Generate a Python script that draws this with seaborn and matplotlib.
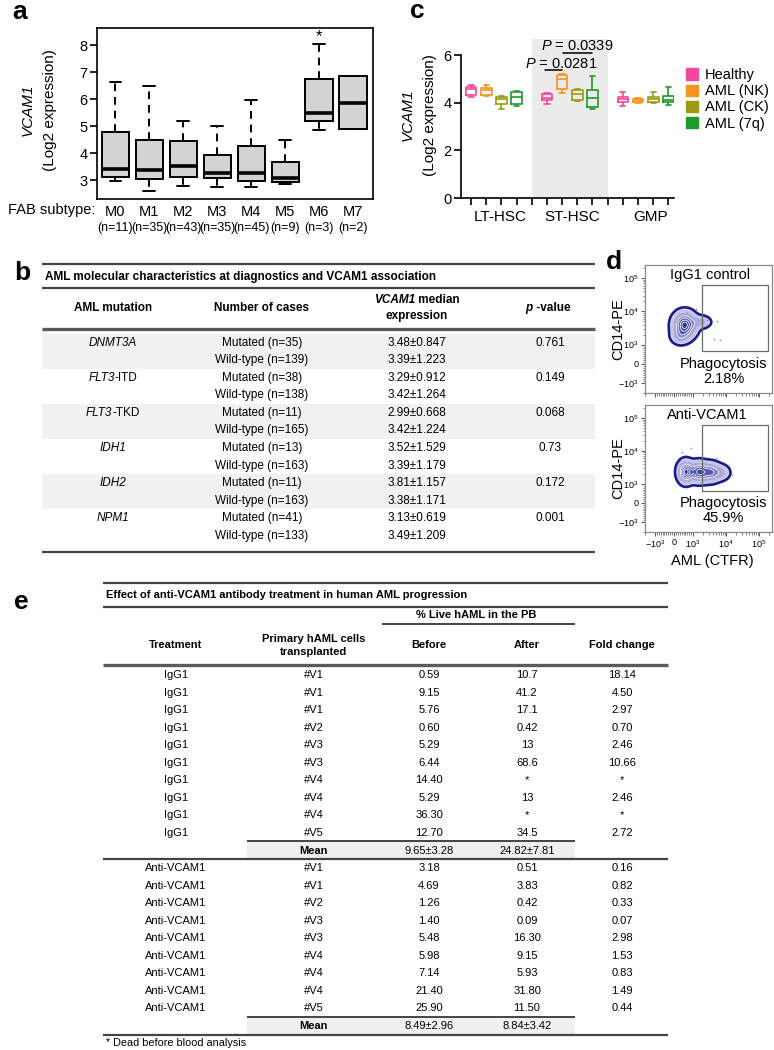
import numpy as np
import pandas as pd
import matplotlib
matplotlib.use("Agg")
import matplotlib.pyplot as plt
import seaborn as sns
from matplotlib import font_manager
from matplotlib.patches import Rectangle, Patch
from matplotlib.colors import LinearSegmentedColormap
from matplotlib.transforms import blended_transform_factory

# ======================= DATA =======================
# panel a : VCAM1 by FAB subtype (five-number summaries read from the boxes)
fab_subtypes = ["M0", "M1", "M2", "M3", "M4", "M5", "M6", "M7"]
fab_n = [11, 35, 43, 35, 45, 9, 3, 2]
fab_min = [2.98, 2.62, 2.79, 2.74, 2.75, 2.85, 4.87, 4.88]
fab_q1 = [3.14, 3.06, 3.14, 3.07, 2.99, 2.93, 5.18, 4.88]
fab_median = [3.41, 3.39, 3.54, 3.28, 3.26, 3.07, 5.50, 5.87]
fab_q3 = [4.80, 4.48, 4.44, 3.92, 4.26, 3.67, 6.76, 6.85]
fab_max = [6.65, 6.49, 5.20, 5.01, 5.97, 4.48, 8.04, 6.85]
fab_star_value = 8.30

# panel c : VCAM1 in sorted populations
cell_types = ["LT-HSC", "ST-HSC", "GMP"]
groups = ["Healthy", "AML (NK)", "AML (CK)", "AML (7q)"]
group_colors = ["#f2479b", "#f7941d", "#9c9a12", "#1f9a2a"]
# order: LT (H, NK, CK, 7q), ST (...), GMP (...)
c_min = [4.22, 4.30, 3.72, 3.86, 3.93, 4.42, 4.06, 3.73, 3.86, 3.97, 4.00, 3.90]
c_q1 = [4.32, 4.32, 3.94, 3.93, 4.11, 4.56, 4.10, 3.80, 4.04, 4.03, 4.04, 4.04]
c_median = [4.56, 4.53, 4.14, 4.25, 4.21, 5.01, 4.35, 4.21, 4.15, 4.10, 4.15, 4.13]
c_q3 = [4.67, 4.60, 4.25, 4.46, 4.35, 5.15, 4.53, 4.52, 4.25, 4.15, 4.25, 4.29]
c_max = [4.74, 4.73, 4.29, 4.49, 4.42, 5.22, 4.59, 5.12, 4.46, 4.20, 4.43, 4.64]
c_pvals = ["0.0281", "0.0339"]

# panel b : molecular characteristics table
b_mutations = ["DNMT3A", "FLT3-ITD", "FLT3-TKD", "IDH1", "IDH2", "NPM1"]
b_mut_n = [35, 38, 11, 13, 11, 41]
b_wt_n = [139, 138, 165, 163, 163, 133]
b_mut_med = [3.48, 3.29, 2.99, 3.52, 3.81, 3.13]
b_mut_sd = [0.847, 0.912, 0.668, 1.529, 1.157, 0.619]
b_wt_med = [3.39, 3.42, 3.42, 3.39, 3.38, 3.49]
b_wt_sd = [1.223, 1.264, 1.224, 1.179, 1.171, 1.209]
b_pvalues = ["0.761", "0.149", "0.068", "0.73", "0.172", "0.001"]

# panel d : flow cytometry density components (centre x, centre y, spread in decades, weight)
igg_cx = [560, 1700, 330]
igg_cy = [3900, 4800, 1800]
igg_sx = [0.19, 0.16, 0.15]
igg_sy = [0.21, 0.10, 0.13]
igg_w = [1.0, 0.30, 0.30]
igg_dots_x = [4200, 6500, 5200, 300, -250, 900, 1200, 2600, 700]
igg_dots_y = [1500, 1400, 5000, 13000, 2600, 1250, 12000, 5600, 9000]
igg_gate_pct = "2.18%"
anti_cx = [620, 1500, 3300, 7000]
anti_cy = [2300, 2300, 2250, 2200]
anti_sx = [0.13, 0.15, 0.17, 0.15]
anti_sy = [0.18, 0.17, 0.16, 0.13]
anti_w = [1.0, 0.80, 0.65, 0.25]
anti_dots_x = [400, 900, 12000, 15000, 200, 5000, 1800]
anti_dots_y = [9000, 12000, 2500, 1800, 1200, 6000, 8000]
anti_gate_pct = "45.9%"
gate_x = [1800, 187000]
gate_y_igg = [680, 61000]
gate_y_anti = [630, 61000]

# panel e : anti-VCAM1 treatment table
igg_cells = ["#V1", "#V1", "#V1", "#V2", "#V3", "#V3", "#V4", "#V4", "#V4", "#V5"]
igg_before = ["0.59", "9.15", "5.76", "0.60", "5.29", "6.44", "14.40", "5.29", "36.30", "12.70"]
igg_after = ["10.7", "41.2", "17.1", "0.42", "13", "68.6", "*", "13", "*", "34.5"]
igg_fold = ["18.14", "4.50", "2.97", "0.70", "2.46", "10.66", "*", "2.46", "*", "2.72"]
igg_mean = ["9.65±3.28", "24.82±7.81"]
anti_cells = ["#V1", "#V1", "#V2", "#V3", "#V3", "#V4", "#V4", "#V4", "#V5"]
anti_before = ["3.18", "4.69", "1.26", "1.40", "5.48", "5.98", "7.14", "21.40", "25.90"]
anti_after = ["0.51", "3.83", "0.42", "0.09", "16.30", "9.15", "5.93", "31.80", "11.50"]
anti_fold = ["0.16", "0.82", "0.33", "0.07", "2.98", "1.53", "0.83", "1.49", "0.44"]
anti_mean = ["8.49±2.96", "8.84±3.42"]

# ======================= STYLE =======================
sns.set_theme(style="ticks")
avail = {f.name for f in font_manager.fontManager.ttflist}
BASE = "Liberation Sans" if "Liberation Sans" in avail else "DejaVu Sans"
NARROW = "Liberation Sans Narrow" if "Liberation Sans Narrow" in avail else BASE
plt.rcParams["font.family"] = [BASE, "DejaVu Sans"]
plt.rcParams["mathtext.fontset"] = "custom"
plt.rcParams["mathtext.rm"] = BASE
plt.rcParams["mathtext.it"] = BASE + ":italic"
plt.rcParams["mathtext.bf"] = BASE + ":bold"
for k in ["text.color", "axes.labelcolor", "xtick.color", "ytick.color", "axes.edgecolor"]:
    plt.rcParams[k] = "black"

W, H = 774, 1050
fig = plt.figure(figsize=(W / 100, H / 100), dpi=100)
fig.patch.set_facecolor("white")


def rect(l, t, r, b):
    return [l / W, 1 - b / H, (r - l) / W, (b - t) / H]


ov = fig.add_axes([0, 0, 1, 1])
ov.set_xlim(0, W)
ov.set_ylim(H, 0)
ov.axis("off")
renderer = fig.canvas.get_renderer()


def rich(x, y, segs, fs, family, ha="center"):
    texts, widths = [], []
    for s, kw in segs:
        t = ov.text(0, y, s, fontsize=fs, family=family, va="center", ha="left", **kw)
        widths.append(t.get_window_extent(renderer).width)
        texts.append(t)
    total = sum(widths)
    x0 = x - total / 2 if ha == "center" else x
    for t, w in zip(texts, widths):
        t.set_x(x0)
        x0 += w


def hline(y, x0, x1, lw=1.5, color="#444444"):
    ov.plot([x0, x1], [y, y], color=color, lw=lw, solid_capstyle="butt")


# panel letters
for letter, (lx, ly) in zip("abcde", [(20, 12), (22, 273), (417, 11), (614, 262), (21, 602)]):
    ov.text(lx, ly, letter, fontsize=19, fontweight="bold", ha="center", va="center")

# ======================= PANEL A =======================
axa = fig.add_axes(rect(97, 28, 373, 199))
rows = []
for i, m in enumerate(fab_subtypes):
    for v in (fab_min[i], fab_q1[i], fab_median[i], fab_q3[i], fab_max[i]):
        rows.append({"subtype": m, "value": v})
dfa = pd.DataFrame(rows)
sns.boxplot(data=dfa, x="subtype", y="value", order=fab_subtypes, color="#d3d3d3",
            saturation=1, width=0.8, whis=(0, 100), showfliers=False, linecolor="black",
            linewidth=1.4, ax=axa, capwidths=0.35,
            medianprops=dict(linewidth=2.6, color="black"),
            whiskerprops=dict(linestyle=(0, (4, 3)), linewidth=1.4, color="black"),
            capprops=dict(linewidth=1.4, color="black"))
axa.set_xlim(-0.545, 7.59)
axa.set_ylim(2.31, 8.63)
axa.set_yticks([3, 4, 5, 6, 7, 8])
axa.set_xticks(range(len(fab_subtypes)))
axa.set_xticklabels(fab_subtypes)
axa.tick_params(axis="x", length=0, pad=4, labelsize=10.5)
axa.tick_params(axis="y", length=5, width=1.2, labelsize=10.5, pad=2)
for s in axa.spines.values():
    s.set_visible(True)
    s.set_linewidth(1.2)
    s.set_color("black")
axa.set_xlabel("")
axa.set_ylabel("")
axa.text(fab_subtypes.index("M6"), fab_star_value, "*", ha="center", va="center", fontsize=12)
bt = blended_transform_factory(axa.transData, axa.transAxes)
for i, n in enumerate(fab_n):
    axa.text(i, -(228 - 199) / 171, f"(n={n})", transform=bt, ha="center", va="center",
             fontsize=9, family=NARROW)
ov.text(95, 210, "FAB subtype:", ha="right", va="center", fontsize=10.5)
ov.text(28, 110, "VCAM1", rotation=90, style="italic", ha="center", va="center", fontsize=11)
ov.text(50, 110, "(Log2 expression)", rotation=90, ha="center", va="center", fontsize=11)

# ======================= PANEL C =======================
axc = fig.add_axes(rect(461, 39.3, 673.7, 198))
rows = []
for ci, cell in enumerate(cell_types):
    for gi, g in enumerate(groups):
        k = ci * len(groups) + gi
        for v in (c_min[k], c_q1[k], c_median[k], c_q3[k], c_max[k]):
            rows.append({"pos": ci * (len(groups) + 1) + gi + 1, "group": g, "value": v})
dfc = pd.DataFrame(rows)
axc.axvspan(len(groups) + 1, 2 * (len(groups) + 1), color="#ebebeb", zorder=0, lw=0)
sns.boxplot(data=dfc, x="pos", y="value", hue="group", hue_order=groups,
            palette=group_colors, native_scale=True, fill=False, width=0.7, dodge=False,
            whis=(0, 100), showfliers=False, linewidth=1.2, legend=False, ax=axc)
axc.set_xlim(0.34, 14.35)
axc.set_ylim(0, 6.66)
axc.set_yticks([0, 2, 4, 6])
axc.set_xticks(range(1, 15))
axc.set_xticklabels([])
axc.tick_params(axis="both", length=5, width=1.2, labelsize=10.5, pad=2)
axc.spines["top"].set_visible(False)
axc.spines["right"].set_visible(False)
axc.spines["left"].set_bounds(0, 6)
for s in ("left", "bottom"):
    axc.spines[s].set_linewidth(1.2)
    axc.spines[s].set_color("black")
axc.set_xlabel("")
axc.set_ylabel("")
axc.set_facecolor("none")
axc.plot([5.85, 7.0], [5.37, 5.37], color="black", lw=1.1)
axc.text(6.97, 5.63, r"$\mathit{P}$ = " + c_pvals[0], ha="center", va="center", fontsize=10.5)
axc.plot([7.05, 9.0], [6.07, 6.07], color="black", lw=1.1)
axc.text(8.0, 6.36, r"$\mathit{P}$ = " + c_pvals[1], ha="center", va="center", fontsize=10.5)
for lab, x in zip(cell_types, [500, 572, 651]):
    ov.text(x, 217, lab, ha="center", va="center", fontsize=11)
ov.text(408, 115, "VCAM1", rotation=90, style="italic", ha="center", va="center", fontsize=11)
ov.text(430, 115, "(Log2 expression)", rotation=90, ha="center", va="center", fontsize=11)
handles = [Patch(facecolor=c, edgecolor=c, label=g) for g, c in zip(groups, group_colors)]
fig.legend(handles=handles, loc="upper left", bbox_to_anchor=(686 / W, 1 - 68 / H),
           frameon=False, fontsize=10.5, handlelength=0.8, handleheight=0.8,
           handletextpad=0.5, labelspacing=0.15, borderpad=0, borderaxespad=0)

# ======================= PANEL B (table) =======================
FS_B = 8.5
bx0, bx1 = 42, 595
hline(263.5, bx0, bx1, 1.6)
ov.text(45, 277, "AML molecular characteristics at diagnostics and VCAM1 association",
        fontsize=FS_B, fontweight="bold", ha="left", va="center")
hline(288, bx0, bx1, 1.6)
ov.text(113, 308, "AML mutation", fontsize=FS_B, fontweight="bold", ha="center", va="center")
ov.text(262, 308, "Number of cases", fontsize=FS_B, fontweight="bold", ha="center", va="center")
rich(417, 300, [("VCAM1", dict(fontweight="bold", style="italic")),
                (" median", dict(fontweight="bold"))], FS_B, BASE)
ov.text(417, 316, "expression", fontsize=FS_B, fontweight="bold", ha="center", va="center")
rich(548, 308, [("p", dict(fontweight="bold", style="italic")),
                (" -value", dict(fontweight="bold"))], FS_B, BASE)
hline(328.5, bx0, bx1, 2.4, "#5a5a5a")
row0, dy = 342.7, 17.55
for i, mut in enumerate(b_mutations):
    ya = row0 + 2 * i * dy
    yb = ya + dy
    if i % 2 == 0:
        ov.add_patch(Rectangle((bx0, ya - dy / 2), bx1 - bx0, 2 * dy, facecolor="#f1f1f1",
                               edgecolor="none", zorder=0))
    if "-" in mut:
        head, tail = mut.split("-", 1)
        rich(113, ya, [(head, dict(style="italic")), ("-" + tail, {})], FS_B, BASE)
    else:
        ov.text(113, ya, mut, fontsize=FS_B, style="italic", ha="center", va="center")
    ov.text(262, ya, f"Mutated (n={b_mut_n[i]})", fontsize=FS_B, ha="center", va="center")
    ov.text(262, yb, f"Wild-type (n={b_wt_n[i]})", fontsize=FS_B, ha="center", va="center")
    ov.text(417, ya, f"{b_mut_med[i]:.2f}±{b_mut_sd[i]:.3f}", fontsize=FS_B, ha="center", va="center")
    ov.text(417, yb, f"{b_wt_med[i]:.2f}±{b_wt_sd[i]:.3f}", fontsize=FS_B, ha="center", va="center")
    ov.text(550, ya, b_pvalues[i], fontsize=FS_B, ha="center", va="center")
hline(551.7, bx0, bx1, 1.6)

# ======================= PANEL D (flow) =======================
flow_cmap = LinearSegmentedColormap.from_list("flow", ["#dcdcf3", "#a4a4da", "#5656b8", "#2a2a94"])


def setup_flow(ax, show_xlabels):
    ax.set_xscale("symlog", linthresh=1000, linscale=0.52)
    ax.set_yscale("symlog", linthresh=1000, linscale=0.52)
    ax.set_xlim(-2000, 2.4e5)
    ax.set_ylim(-2000, 2.5e5)
    ticks = [-1e3, 0, 1e3, 1e4, 1e5]
    labs = [r"$-10^3$", "0", r"$10^3$", r"$10^4$", r"$10^5$"]
    minors = [v for v in range(-900, 1000, 100) if v != 0]
    minors += [m * 10 ** e for e in (3, 4) for m in range(2, 10)] + [2e5]
    minors += [-2000]
    for axis in (ax.xaxis, ax.yaxis):
        axis.set_ticks(ticks)
        axis.set_ticks(minors, minor=True)
        axis.set_ticklabels(labs)
        axis.set_minor_formatter(matplotlib.ticker.NullFormatter())
    if not show_xlabels:
        ax.set_xticklabels([])
    ax.tick_params(which="major", length=3, width=0.7, labelsize=6.5, pad=1.5, color="#555555")
    ax.tick_params(which="minor", length=1.8, width=0.5, color="#555555")
    for s in ax.spines.values():
        s.set_visible(True)
        s.set_color("#8a8a8a")
        s.set_linewidth(0.9)
    ax.set_facecolor("white")


def flow_density(ax, cx, cy, sx, sy, w):
    xt = ax.xaxis.get_transform()
    yt = ax.yaxis.get_transform()
    lx = xt.transform(np.array(ax.get_xlim(), float))
    ly = yt.transform(np.array(ax.get_ylim(), float))
    U, V = np.meshgrid(np.linspace(lx[0], lx[1], 340), np.linspace(ly[0], ly[1], 340))
    Z = np.zeros_like(U)
    dec = 1000.0
    for x0, y0, a, b, ww in zip(cx, cy, sx, sy, w):
        u0 = xt.transform(np.array([x0], float))[0]
        v0 = yt.transform(np.array([y0], float))[0]
        Z += ww * np.exp(-0.5 * (((U - u0) / (a * dec)) ** 2 + ((V - v0) / (b * dec)) ** 2))
    Z /= Z.max()
    X = xt.inverted().transform(U.ravel()).reshape(U.shape)
    Y = yt.inverted().transform(V.ravel()).reshape(V.shape)
    levels = [0.04, 0.12, 0.25, 0.42, 0.6, 0.78, 0.92, 1.001]
    ax.contourf(X, Y, Z, levels=levels, cmap=flow_cmap, zorder=2)
    ax.contour(X, Y, Z, levels=levels[3:-1], colors="white", linewidths=0.6, zorder=3)
    ax.contour(X, Y, Z, levels=[levels[0]], colors="#1b1b8a", linewidths=1.9, zorder=4)


for (t, b, cx, cy, sx, sy, w, dx, dy_, gy, title, pct, tx, show) in [
        (265, 393, igg_cx, igg_cy, igg_sx, igg_sy, igg_w, igg_dots_x, igg_dots_y, gate_y_igg,
         "IgG1 control", igg_gate_pct, 0.51, False),
        (405, 531.7, anti_cx, anti_cy, anti_sx, anti_sy, anti_w, anti_dots_x, anti_dots_y,
         gate_y_anti, "Anti-VCAM1", anti_gate_pct, 0.49, True)]:
    ax = fig.add_axes(rect(645, t, 771.7, b))
    setup_flow(ax, show)
    flow_density(ax, cx, cy, sx, sy, w)
    ax.scatter(dx, dy_, s=1.5, color="#8c8cd0", lw=0, zorder=2)
    ax.add_patch(Rectangle((gate_x[0], gy[0]), gate_x[1] - gate_x[0], gy[1] - gy[0],
                           fill=False, edgecolor="#6b6b6b", lw=0.9, zorder=5))
    ax.text(tx, 0.92, title, transform=ax.transAxes, ha="center", va="center", fontsize=10.5)
    ax.text(0.62, 0.23, "Phagocytosis", transform=ax.transAxes, ha="center", va="center", fontsize=10.5)
    ax.text(0.62, 0.112, pct, transform=ax.transAxes, ha="center", va="center", fontsize=10.5)
    ov.text(618, (t + b) / 2, "CD14-PE", rotation=90, ha="center", va="center", fontsize=10.5)
ov.text(712, 561, "AML (CTFR)", ha="center", va="center", fontsize=10.5)

# ======================= PANEL E (table) =======================
FS_E = 10 if NARROW != BASE else 8
ex0, ex1 = 102.5, 667.5
mx0, mx1 = 246.8, 575
hline(582.7, ex0, ex1, 1.6)
ov.text(106, 595.5, "Effect of anti-VCAM1 antibody treatment in human AML progression",
        fontsize=FS_E, family=NARROW, fontweight="bold", ha="left", va="center")
hline(607, ex0, ex1, 1.6)
ov.text(476, 615.5, "% Live hAML in the PB", fontsize=FS_E, family=NARROW, fontweight="bold",
        ha="center", va="center")
hline(624.3, 381.5, mx1, 1.4)
cols = [176, 314, 429, 527, 622]
for x, lab in zip(cols, ["Treatment", "Primary hAML cells\ntransplanted", "Before", "After", "Fold change"]):
    ov.text(x, 645.5, lab, fontsize=FS_E, family=NARROW, fontweight="bold", ha="center",
            va="center", linespacing=1.3)
hline(665, ex0, ex1, 2.4, "#5a5a5a")


def e_rows(y0, treat, cells, before, after, fold):
    for i in range(len(cells)):
        y = y0 + i * 17.52
        for x, s in zip(cols, [treat, cells[i], before[i], after[i], fold[i]]):
            ov.text(x, y, s, fontsize=FS_E, family=NARROW, ha="center", va="center")


def e_mean(y, vals):
    ov.add_patch(Rectangle((mx0, y - 8.8), mx1 - mx0, 17.6, facecolor="#f0f0f0",
                           edgecolor="none", zorder=0))
    hline(y - 9.5, mx0, mx1, 1.4)
    ov.text(cols[1], y, "Mean", fontsize=FS_E, family=NARROW, fontweight="bold", ha="center", va="center")
    ov.text(cols[2], y, vals[0], fontsize=FS_E, family=NARROW, ha="center", va="center")
    ov.text(cols[3], y, vals[1], fontsize=FS_E, family=NARROW, ha="center", va="center")


e_rows(675, "IgG1", igg_cells, igg_before, igg_after, igg_fold)
e_mean(850.5, igg_mean)
hline(858.8, ex0, ex1, 1.6)
e_rows(868.3, "Anti-VCAM1", anti_cells, anti_before, anti_after, anti_fold)
e_mean(1026, anti_mean)
hline(1034.5, ex0, ex1, 1.6)
ov.text(106, 1042.5, "* Dead before blood analysis", fontsize=7.8, family=NARROW,
        ha="left", va="center")

fig.savefig("out.png", dpi=100)
